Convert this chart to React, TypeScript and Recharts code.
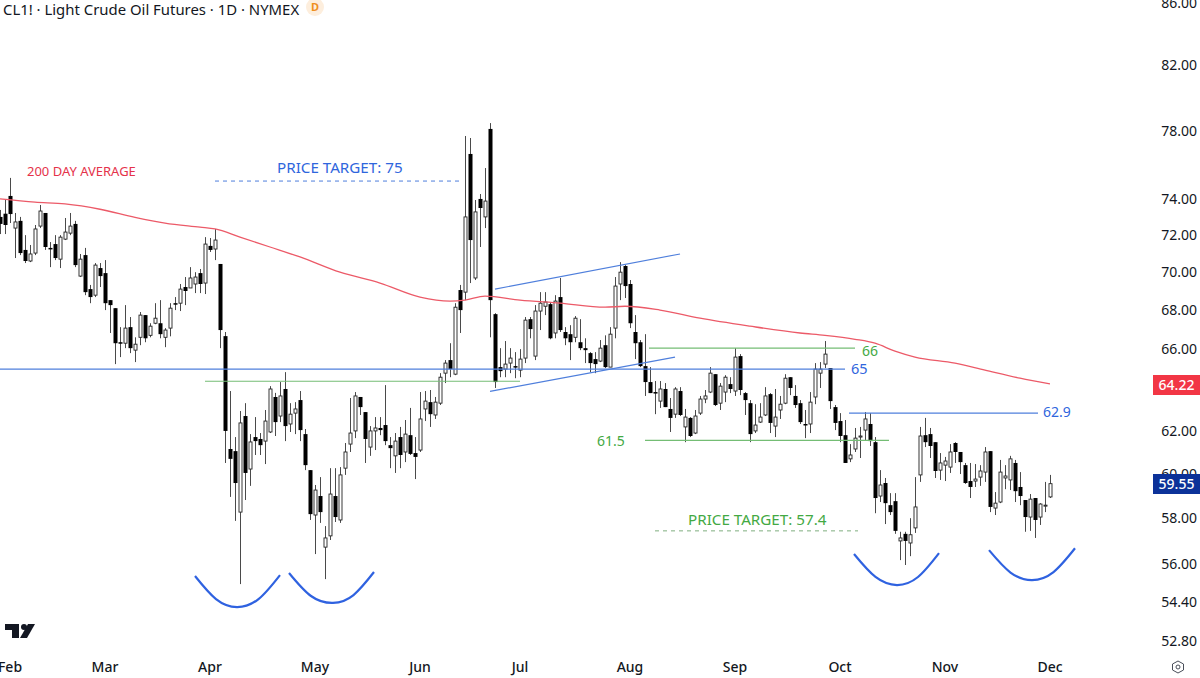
import React from "react";
import { ComposedChart, Bar, Line, XAxis, YAxis, ReferenceLine } from "recharts";

const FONT = "'Noto Sans', sans-serif";

const opens = [
  73.02,73.2,74.2,72.4,72.8,71.2,70.6,71.03,72.51,73.24,
  71.31,71.52,70.7,71.79,72.12,72.63,69.79,70.92,69.1,68.78,
  70.22,69.95,68.52,68.1,66.35,66.3,67.12,65.95,66.6,67.74,
  66.7,67.32,67.32,66.6,67.07,68.36,68.36,69.21,69.16,69.37,
  69.95,69.42,71.42,71.25,70.44,66.66,61.15,61.05,58.27,62.71,
  60.22,61.71,61.62,61.52,61.95,63.63,62.71,64.02,62.33,62.85,
  63.48,61.85,60.17,58.14,58.99,56.73,57.22,58.99,57.92,60.26,
  61.38,62.0,63.63,62.9,61.24,62.0,62.14,62.28,61.33,60.83,
  61.71,61.01,61.8,60.96,61.1,63.05,63.38,62.76,63.33,64.8,
  65.45,64.75,69.05,68.94,76.62,69.69,74.03,73.02,78.1,67.79,
  65.1,65.0,65.3,65.15,64.95,65.55,67.53,65.65,67.95,68.2,
  68.31,66.82,68.68,66.87,66.76,66.6,66.35,66.05,65.8,65.5,
  65.4,66.2,65.1,67.07,69.37,70.33,69.37,66.87,66.35,65.15,
  64.36,63.87,63.43,64.02,63.05,62.8,63.92,62.19,62.62,61.9,
  62.85,63.53,63.87,64.75,63.33,63.87,64.26,63.92,65.65,63.82,
  63.33,62.0,62.42,62.76,63.77,62.23,63.0,63.33,64.6,63.68,
  63.33,62.33,62.33,63.63,64.8,65.25,65.05,63.14,62.47,61.8,
  60.69,61.15,61.71,62.04,62.33,61.47,58.99,59.58,58.58,58.76,
  57.0,57.31,56.91,57.57,59.95,61.8,61.85,61.47,60.17,60.4,
  60.31,61.43,61.01,60.4,59.67,59.67,59.85,60.08,61.05,58.45,
  58.72,59.81,59.72,60.5,59.4,58.81,58.05,58.9,58.05,58.54,
  58.95,
];
const highs = [
  73.41,73.97,75.23,73.24,73.02,72.01,71.47,72.57,73.69,73.24,
  71.63,72.01,72.01,72.96,73.24,72.8,70.98,71.31,69.32,70.49,
  70.49,70.65,68.52,68.1,67.12,68.26,67.64,66.6,67.9,67.74,
  67.32,68.36,68.52,67.07,68.36,68.68,69.37,69.74,70.27,70.0,
  70.17,71.9,71.85,72.35,70.44,66.87,63.92,61.71,62.95,63.33,
  61.85,62.66,61.9,63.0,64.16,63.83,64.36,64.85,63.33,63.38,
  63.92,62.09,60.17,59.49,59.85,57.65,60.26,60.26,60.31,61.43,
  63.58,63.87,63.63,62.9,62.23,62.66,62.66,64.21,61.71,61.9,
  62.19,62.52,63.1,61.71,63.87,63.92,63.97,63.63,64.8,65.45,
  66.3,68.36,69.32,77.68,77.56,73.97,74.31,75.8,78.45,67.84,
  66.05,66.41,66.05,65.85,66.0,67.64,67.64,68.26,68.94,68.94,
  68.42,68.78,69.69,67.12,67.22,67.69,67.53,66.55,65.85,65.85,
  66.46,66.7,67.12,69.74,70.54,70.38,69.58,67.74,66.46,66.76,
  65.1,64.41,64.41,64.31,63.58,64.11,64.11,63.05,62.66,63.0,
  63.68,63.97,65.1,64.75,64.31,64.7,64.6,66.05,65.75,63.87,
  63.48,63.28,63.33,64.11,63.82,64.02,63.68,64.75,64.6,64.21,
  63.48,63.0,63.87,65.3,65.35,66.41,65.05,63.24,62.85,62.52,
  61.38,62.14,62.19,62.9,62.85,61.71,60.17,59.81,59.12,59.12,
  57.4,57.4,58.0,59.85,62.19,62.62,62.14,61.47,60.96,60.78,
  61.38,61.47,61.01,60.5,60.5,60.45,60.4,61.24,61.05,59.17,
  60.64,60.4,60.83,60.64,60.08,58.81,59.08,58.9,58.67,59.63,
  59.95,
];
const lows = [
  72.07,72.07,72.68,70.76,70.92,70.49,70.54,70.92,72.4,71.2,
  70.27,70.65,70.22,71.74,72.01,70.27,69.74,68.78,68.36,68.68,
  69.21,68.0,66.82,65.25,65.6,66.05,65.8,65.35,66.2,66.35,
  66.6,67.27,66.55,66.1,66.65,68.0,67.95,68.26,69.16,68.89,
  68.89,68.84,71.09,70.65,66.05,60.5,58.95,57.88,55.15,58.81,
  59.45,60.87,60.87,60.45,61.9,61.76,62.42,61.52,61.95,61.85,
  61.52,60.17,57.92,56.43,57.79,55.36,57.04,57.83,57.79,59.95,
  61.01,61.66,62.76,60.5,60.83,61.1,61.8,61.33,60.26,60.04,
  60.26,60.54,60.87,59.76,61.01,62.47,62.19,62.57,63.24,64.31,
  64.6,64.7,66.82,68.52,69.42,69.58,71.36,72.4,66.6,64.07,
  64.6,64.6,64.8,64.55,64.6,65.3,66.55,65.45,66.97,67.74,
  66.5,66.55,66.87,66.2,65.45,66.35,65.95,65.3,64.85,64.8,
  65.35,65.05,65.1,66.55,68.52,68.63,67.07,65.5,65.1,63.68,
  63.82,62.8,63.1,63.14,61.95,62.62,62.71,61.47,61.71,61.85,
  62.76,63.33,63.82,63.19,63.0,63.38,63.82,63.68,63.72,62.76,
  61.47,61.9,62.38,62.71,61.9,61.71,62.57,63.28,63.72,63.1,
  62.33,61.66,61.9,63.28,64.07,65.05,63.05,62.04,61.47,60.5,
  60.54,61.01,60.73,61.57,61.29,58.22,58.72,57.74,58.14,57.31,
  56.17,55.96,56.34,57.35,59.63,61.24,60.73,59.81,59.72,59.67,
  60.04,60.5,59.99,59.54,58.9,59.4,59.45,59.63,58.27,58.14,
  58.67,59.3,59.26,58.72,58.58,57.4,57.44,57.13,57.7,58.27,
  58.9,
];
const closes = [
  72.63,72.57,73.18,72.74,71.03,70.6,70.98,72.35,73.35,71.36,
  71.25,70.76,71.9,72.18,72.51,70.38,70.7,68.94,68.68,70.38,
  69.79,68.36,68.26,66.3,66.3,67.07,66.05,66.25,67.74,66.55,
  67.17,67.58,66.76,66.97,68.1,68.31,69.1,69.0,69.69,69.74,
  69.37,71.52,71.2,71.74,66.97,62.0,60.69,59.58,62.38,60.04,
  61.48,61.52,61.33,62.47,64.02,62.42,63.68,62.23,62.8,63.05,
  62.04,60.4,58.18,59.26,58.27,57.13,59.08,58.05,59.95,61.01,
  61.9,63.68,63.14,61.62,62.0,62.14,62.04,61.52,61.19,61.52,
  60.87,61.85,60.92,60.78,62.57,63.43,62.8,63.38,64.6,65.3,
  65.0,68.15,68.0,73.02,71.74,73.3,73.52,73.91,68.52,64.36,
  64.9,65.25,65.55,65.1,65.5,67.48,67.02,67.95,68.36,68.42,
  66.55,68.47,66.97,66.55,66.35,67.58,66.05,65.95,65.3,65.25,
  66.05,65.1,66.76,69.26,70.0,69.26,67.32,66.3,65.15,64.36,
  63.82,63.82,64.02,63.14,62.62,64.02,62.76,62.66,61.76,62.71,
  63.53,63.68,64.8,63.24,64.16,64.6,64.02,65.6,63.97,63.48,
  61.85,62.28,62.66,63.68,62.38,62.66,63.28,64.55,64.07,63.24,
  62.42,62.28,63.38,65.0,65.0,65.75,63.43,62.38,61.76,60.5,
  60.87,61.66,61.76,62.57,61.52,58.9,59.49,58.67,58.27,57.44,
  57.13,57.0,57.27,58.5,61.76,61.47,61.29,60.13,60.5,60.59,
  61.01,61.01,60.54,59.58,59.4,59.76,60.13,61.01,58.5,58.67,
  60.08,59.9,60.69,59.21,58.99,58.05,58.85,57.92,58.63,58.58,
  59.55,
];

const maIndex = [0,7,13,20,27,33,40,43,48,54,60,68,76,84,90,93,97,104,112,121,125,132,140,150,160,165,171,175,179,183,191,197,204,210];
const maValues = [74.03,73.85,73.75,73.45,73.0,72.68,72.45,72.35,71.9,71.36,70.82,70.0,69.42,68.68,68.47,68.52,68.73,68.52,68.36,68.15,68.2,68.0,67.58,67.17,66.82,66.7,66.5,66.3,65.9,65.6,65.3,64.95,64.55,64.27];

const monthIndex = [2,21,42,63,84,104,126,147,168,189,210];
const monthLabels = ["Feb","Mar","Apr","May","Jun","Jul","Aug","Sep","Oct","Nov","Dec"];
const priceTicks = [86,82,78,74,72,70,68,66,62,60,58,56,54.4,52.8];

const arc1 = [[39,55.49],[43.2,54.52],[47.4,54.19],[51.7,54.52],[56,55.53]];
const arc2 = [[57.8,55.62],[62.2,54.65],[66.6,54.36],[70.7,54.69],[74.8,55.66]];
const arc3 = [[170.8,56.43],[175.1,55.45],[179.4,55.11],[183.6,55.45],[187.8,56.47]];
const arc4 = [[197.8,56.6],[202.1,55.64],[206.4,55.32],[210.7,55.66],[215,56.68]];
const arcs = [arc1, arc2, arc3, arc4];

const BLUE = "#4f7fdc";
const BLUE_TEXT = "#2f66dd";
const GREEN = "#74bd74";
const GREEN_TEXT = "#43a943";

const rows: any[] = opens.map((o, i) => ({
  i,
  open: o,
  high: highs[i],
  low: lows[i],
  close: closes[i],
  range: [lows[i], highs[i]],
  ma: maIndex.includes(i) ? maValues[maIndex.indexOf(i)] : null,
}));

function Candle(props: any) {
  const { x, y, width, height, payload } = props;
  const { open, high, low, close } = payload;
  const cx = Math.round(x + width / 2);
  const span = Math.log(high / low);
  const py = (v: number) => y + (height * Math.log(high / v)) / span;
  const top = py(Math.max(open, close));
  const bot = py(Math.min(open, close));
  const up = close >= open;
  return (
    <g>
      <line x1={cx + 0.5} x2={cx + 0.5} y1={y} y2={y + height} stroke="#4a4a4a" strokeWidth={1} />
      {up ? (
        <rect x={cx - 1} y={top} width={3} height={Math.max(bot - top, 1)} fill="#fff" stroke="#222" strokeWidth={0.9} />
      ) : (
        <rect x={cx - 1.5} y={top} width={4} height={Math.max(bot - top, 1.5)} fill="#000" />
      )}
    </g>
  );
}

function PriceTick(props: any) {
  const { y, payload } = props;
  return (
    <text x={1197} y={y + 5} textAnchor="end" fontFamily={FONT} fontSize={14} fill="#131722">
      {Number(payload.value).toFixed(2)}
    </text>
  );
}

function MonthTick(props: any) {
  const { x, payload } = props;
  return (
    <text x={x} y={672} textAnchor="middle" fontFamily={FONT} fontSize={14} fontWeight={500} fill="#131722">
      {monthLabels[monthIndex.indexOf(payload.value)]}
    </text>
  );
}

const seg = (a: number, b: number, c: number, d: number) => [{ x: a, y: b }, { x: c, y: d }] as any;

function Note(p: { x: number; y: number; color: string; size?: number; children: React.ReactNode }) {
  return (
    <div style={{ position: "absolute", left: p.x, top: p.y, color: p.color, fontFamily: FONT, fontSize: p.size ?? 14, lineHeight: "18px", whiteSpace: "nowrap" }}>
      {p.children}
    </div>
  );
}

function PriceBox(p: { top: number; bg: string; children: React.ReactNode }) {
  return (
    <div style={{ position: "absolute", left: 1153, top: p.top, width: 47, height: 20, background: p.bg, color: "#fff", fontFamily: FONT, fontSize: 14, fontWeight: 500, lineHeight: "20px", textAlign: "center" }}>
      {p.children}
    </div>
  );
}

export default function App() {
  return (
    <div style={{ position: "fixed", left: 0, top: 0, width: 1200, height: 678, overflow: "hidden", background: "#fff" }}>
      <ComposedChart width={1200} height={678} data={rows} margin={{ top: 0, right: 0, bottom: 0, left: 0 }}>
        <XAxis dataKey="i" type="number" domain={[0, 228]} ticks={monthIndex} interval={0} height={28} axisLine={false} tickLine={false} tick={<MonthTick />} allowDataOverflow />
        <YAxis orientation="right" scale="log" domain={[52.44, 86.19]} ticks={priceTicks} interval={0} width={60} axisLine={false} tickLine={false} tick={<PriceTick />} allowDataOverflow />
        <ReferenceLine segment={seg(0, 65, 169, 65)} stroke={BLUE} strokeWidth={1.2} />
        <ReferenceLine segment={seg(41, 64.4, 104, 64.4)} stroke={GREEN} strokeWidth={1.2} />
        <Bar dataKey="range" barSize={4} isAnimationActive={false} shape={<Candle />} />
        <Line dataKey="ma" type="monotone" connectNulls dot={false} stroke="#ec5a68" strokeWidth={1.3} isAnimationActive={false} />
        <ReferenceLine segment={seg(129.8, 66.05, 171, 66.05)} stroke={GREEN} strokeWidth={1.2} />
        <ReferenceLine segment={seg(129, 61.55, 177.8, 61.55)} stroke={GREEN} strokeWidth={1.2} />
        <ReferenceLine segment={seg(169.8, 62.85, 207.6, 62.85)} stroke={BLUE} strokeWidth={1.2} />
        <ReferenceLine segment={seg(43, 75.05, 92.4, 75.05)} stroke={BLUE} strokeWidth={1} strokeDasharray="4 4" />
        <ReferenceLine segment={seg(131, 57.44, 171.6, 57.44)} stroke="#7fae7f" strokeWidth={1} strokeDasharray="4 4" />
        <ReferenceLine segment={seg(99, 69.1, 136, 70.98)} stroke={BLUE} strokeWidth={1.2} />
        <ReferenceLine segment={seg(98, 63.9, 135, 65.6)} stroke={BLUE} strokeWidth={1.2} />
        {arcs.map((arc, n) => (
          <Line
            key={n}
            data={arc.map(([i, p]) => ({ i, arc: p }))}
            dataKey="arc"
            type="natural"
            dot={false}
            stroke="#2f62e0"
            strokeWidth={2.2}
            isAnimationActive={false}
          />
        ))}
      </ComposedChart>

      <Note x={3} y={0} color="#131722" size={14.9}>CL1! · Light Crude Oil Futures · 1D · NYMEX</Note>
      <div style={{ position: "absolute", left: 306, top: -2, width: 18, height: 18, borderRadius: 9, background: "#fdeedd", color: "#ef8f1e", fontFamily: FONT, fontSize: 11, fontWeight: 700, lineHeight: "18px", textAlign: "center" }}>D</div>
      <Note x={27} y={162} color="#e5324a" size={13}>200 DAY AVERAGE</Note>
      <Note x={277} y={158} color={BLUE_TEXT} size={15.2}>PRICE TARGET: 75</Note>
      <Note x={688} y={510} color={GREEN_TEXT} size={15.2}>PRICE TARGET: 57.4</Note>
      <Note x={862} y={342} color={GREEN_TEXT} size={14}>66</Note>
      <Note x={851} y={359} color={BLUE_TEXT} size={14.5}>65</Note>
      <Note x={597} y={432} color={GREEN_TEXT} size={14}>61.5</Note>
      <Note x={1043} y={403} color={BLUE_TEXT} size={14}>62.9</Note>
      <PriceBox top={375} bg="#f23645">64.22</PriceBox>
      <PriceBox top={474} bg="#0c3299">59.55</PriceBox>

      <svg style={{ position: "absolute", left: 0, top: 0 }} width={1200} height={678}>
        <path d="M5 624H19V638H12V630H5Z" fill="#131722" />
        <circle cx={24} cy={627} r={3} fill="#131722" />
        <path d="M28 624H35L27 638H20Z" fill="#131722" />
        <path d="M1178 661l5.5 3v6l-5.5 3l-5.5-3v-6Z" fill="none" stroke="#4a4f5a" strokeWidth={1} />
        <circle cx={1178} cy={667} r={2} fill="none" stroke="#4a4f5a" strokeWidth={1} />
      </svg>
    </div>
  );
}
